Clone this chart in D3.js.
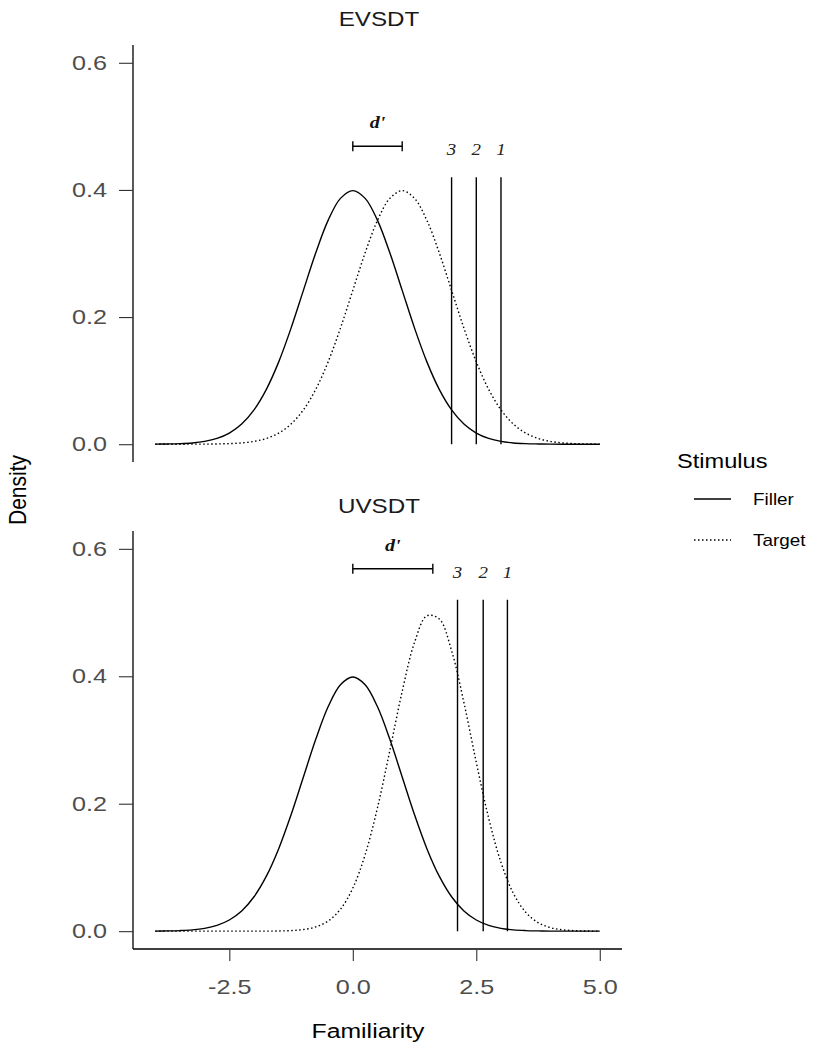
<!DOCTYPE html>
<html>
<head>
<meta charset="utf-8">
<script src="https://cdn.jsdelivr.net/npm/d3@7"></script>
<style>
body { margin: 0; background: #fff; }
svg { display: block; }
</style>
</head>
<body>
<svg id="chart" width="818" height="1050"></svg>
<script>
// ---------- data ----------
const familiarity = [-4, -3.75, -3.5, -3.25, -3, -2.75, -2.5, -2.25, -2, -1.75, -1.5, -1.25, -1, -0.75, -0.5, -0.25,
  0, 0.25, 0.5, 0.75, 1, 1.25, 1.5, 1.75, 2, 2.25, 2.5, 2.75, 3, 3.25, 3.5, 3.75, 4, 4.25, 4.5, 4.75, 5];

const fillerDensity = [0.0001, 0.0004, 0.0009, 0.002, 0.0044, 0.0091, 0.0175, 0.0317, 0.054, 0.0863, 0.1295, 0.1826, 0.242, 0.3011, 0.3521, 0.3867,
  0.3989, 0.3867, 0.3521, 0.3011, 0.242, 0.1826, 0.1295, 0.0863, 0.054, 0.0317, 0.0175, 0.0091, 0.0044, 0.002, 0.0009, 0.0004, 0.0001, 0, 0, 0, 0];

const targetDensityEV = [0, 0, 0, 0.0001, 0.0001, 0.0004, 0.0009, 0.002, 0.0044, 0.0091, 0.0175, 0.0317, 0.054, 0.0863, 0.1295, 0.1826,
  0.242, 0.3011, 0.3521, 0.3867, 0.3989, 0.3867, 0.3521, 0.3011, 0.242, 0.1826, 0.1295, 0.0863, 0.054, 0.0317, 0.0175, 0.0091, 0.0044, 0.002, 0.0009, 0.0004, 0.0001];

const targetDensityUV = [0, 0, 0, 0, 0, 0, 0, 0, 0, 0, 0.0003, 0.0009, 0.0025, 0.0067, 0.0159, 0.0344,
  0.0675, 0.1201, 0.1938, 0.2836, 0.3764, 0.4532, 0.4948, 0.49, 0.4401, 0.3585, 0.2649, 0.1775, 0.1079, 0.0594, 0.0297, 0.0135, 0.0055, 0.0021, 0.0007, 0.0002, 0.0001];

const panelTitles = ["EVSDT", "UVSDT"];
const criteriaEV = [2.0, 2.5, 3.0];
const criteriaUV = [2.12, 2.64, 3.13];
const criteriaLabels = ["3", "2", "1"];
const dPrimeEV = 1.0;
const dPrimeUV = 1.62;
const criteriaTopEV = 0.42;
const criteriaTopUV = 0.52;
const xTicks = [-2.5, 0, 2.5, 5];
const yTicks = [0, 0.2, 0.4, 0.6];
const legendTitle = "Stimulus";
const legendLabels = ["Filler", "Target"];

// ---------- layout ----------
const svg = d3.select("#chart");
const left = 133, right = 622;
const x = d3.scaleLinear().domain([-4.45, 5.45]).range([left, right]);
const S = 1.18;  // horizontal text stretch seen in the reference
const ST = 1.26; // stretch for tick labels

const sans = "'Liberation Sans', Arial, sans-serif";
const serif = "'Liberation Serif', 'Times New Roman', serif";
const tickColor = "#4d4d4d";
const fmt = d => d.toFixed(1);

// stretch a text horizontally around its anchor
function stretch(sel, s) {
  sel.each(function () {
    const t = d3.select(this);
    const xv = +t.attr("x") || 0;
    t.attr("x", 0).attr("transform", `translate(${xv},0) scale(${s},1)`);
  });
}

const panels = [
  { title: panelTitles[0], target: targetDensityEV, crit: criteriaEV, critTop: criteriaTopEV, dp: dPrimeEV, top: 45, bottom: 462, titleY: 26, xAxis: false },
  { title: panelTitles[1], target: targetDensityUV, crit: criteriaUV, critTop: criteriaTopUV, dp: dPrimeUV, top: 531, bottom: 949, titleY: 513, xAxis: true }
];

panels.forEach(p => {
  const y = d3.scaleLinear().domain([-0.028, 0.628]).range([p.bottom, p.top]);
  const g = svg.append("g");

  // title
  g.append("text").attr("x", 379).attr("y", p.titleY)
    .attr("text-anchor", "middle").attr("font-family", sans).attr("font-size", 20.5)
    .attr("fill", "#1a1a1a").text(p.title).call(stretch, S);

  // y axis
  const yAxis = d3.axisLeft(y).tickValues(yTicks).tickFormat(fmt).tickSize(14).tickPadding(12);
  const ya = g.append("g").attr("transform", `translate(${left},0)`).call(yAxis);
  ya.select(".domain").attr("d", `M0,${p.top}V${p.bottom}`).attr("stroke", "#000").attr("stroke-width", 1.3);
  ya.selectAll(".tick line").attr("stroke", "#333").attr("stroke-width", 1.1);
  ya.selectAll(".tick text").attr("font-family", sans).attr("font-size", 20).attr("fill", tickColor).call(stretch, ST);

  if (p.xAxis) {
    const xAxis = d3.axisBottom(x).tickValues(xTicks).tickFormat(fmt).tickSize(12).tickPadding(19);
    const xa = g.append("g").attr("transform", `translate(0,${p.bottom})`).call(xAxis);
    xa.select(".domain").attr("d", `M${left},0H${right}`).attr("stroke", "#000").attr("stroke-width", 1.3);
    xa.selectAll(".tick line").attr("stroke", "#333").attr("stroke-width", 1.1);
    xa.selectAll(".tick text").attr("font-family", sans).attr("font-size", 20).attr("fill", tickColor).call(stretch, ST);
  }

  const line = d3.line().x((d, i) => x(familiarity[i])).y(d => y(d)).curve(d3.curveCatmullRom);

  // filler (solid)
  g.append("path").datum(fillerDensity).attr("d", line)
    .attr("fill", "none").attr("stroke", "#000").attr("stroke-width", 1.4);
  // target (dotted)
  g.append("path").datum(p.target).attr("d", line)
    .attr("fill", "none").attr("stroke", "#000").attr("stroke-width", 1.4).attr("stroke-dasharray", "1.5,2.5");

  // criteria lines
  g.selectAll(".crit").data(p.crit).enter().append("line")
    .attr("x1", d => x(d)).attr("x2", d => x(d))
    .attr("y1", y(0)).attr("y2", y(p.critTop))
    .attr("stroke", "#000").attr("stroke-width", 1.4);
  g.selectAll(".critlab").data(p.crit).enter().append("text")
    .attr("x", d => x(d)).attr("y", y(p.critTop) - 22)
    .attr("text-anchor", "middle").attr("font-family", serif).attr("font-style", "italic")
    .attr("font-size", 16).attr("fill", "#222")
    .text((d, i) => criteriaLabels[i]).call(stretch, S);

  // d' bracket
  const by = y(p.critTop) - 31;
  const dg = g.append("g").attr("stroke", "#000").attr("stroke-width", 1.4);
  dg.append("line").attr("x1", x(0)).attr("x2", x(p.dp)).attr("y1", by).attr("y2", by);
  dg.append("line").attr("x1", x(0)).attr("x2", x(0)).attr("y1", by - 5).attr("y2", by + 5);
  dg.append("line").attr("x1", x(p.dp)).attr("x2", x(p.dp)).attr("y1", by - 5).attr("y2", by + 5);
  g.append("text").attr("x", (x(0) + x(p.dp)) / 2).attr("y", by - 18)
    .attr("text-anchor", "middle").attr("font-family", serif).attr("font-style", "italic")
    .attr("font-weight", "bold").attr("font-size", 17).attr("fill", "#111").text("d'").call(stretch, S);
});

// axis titles
svg.append("text").attr("transform", "translate(26,490) rotate(-90) scale(1," + S + ")")
  .attr("text-anchor", "middle").attr("font-family", sans).attr("font-size", 21).attr("fill", "#000").text("Density");
svg.append("text").attr("x", 368).attr("y", 1038)
  .attr("text-anchor", "middle").attr("font-family", sans).attr("font-size", 21).attr("fill", "#000").text("Familiarity").call(stretch, S);

// legend
const lg = svg.append("g");
lg.append("text").attr("x", 677).attr("y", 468).attr("font-family", sans).attr("font-size", 20).attr("fill", "#000").text(legendTitle).call(stretch, S);
legendLabels.forEach((lab, i) => {
  const ly = 499 + i * 41;
  lg.append("line").attr("x1", 694).attr("x2", 731).attr("y1", ly).attr("y2", ly)
    .attr("stroke", "#000").attr("stroke-width", 1.3)
    .attr("stroke-dasharray", i === 1 ? "1.5,2.5" : null);
  lg.append("text").attr("x", 753).attr("y", ly + 6).attr("font-family", sans).attr("font-size", 16).attr("fill", "#000").text(lab).call(stretch, S);
});
</script>
</body>
</html>
